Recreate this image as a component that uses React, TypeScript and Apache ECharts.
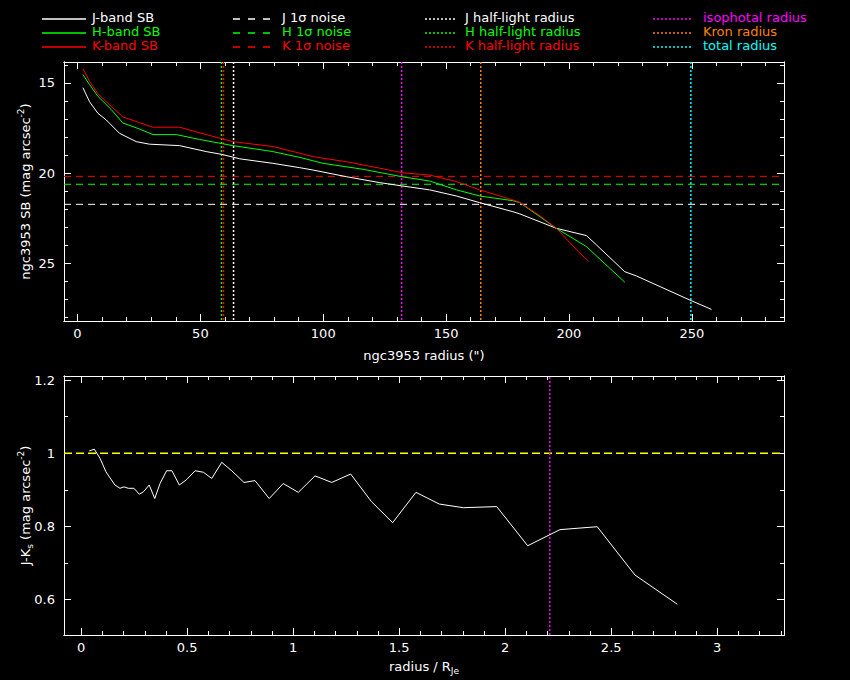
import React, { useEffect, useRef } from "react";
import * as echarts from "echarts";

const FONT = "DejaVu Sans";
const FS = 13;
const LEG_FS = 13;

// ---- data: top panel (radius in arcsec, surface brightness mag/arcsec^2)
const jBand: number[][] = [
  [2.2, 15.26], [4.9, 16.04], [8.3, 16.68], [11.7, 17.05], [17.1, 17.79], [23.9, 18.25],
  [29.3, 18.39], [41.5, 18.47], [52.4, 18.8], [58.5, 18.95], [66, 19.2], [79.5, 19.45],
  [90.4, 19.69], [95.8, 19.82], [109.4, 20.19], [123, 20.52], [132, 20.7], [143.3, 20.92],
  [154.2, 21.26], [163.7, 21.63], [177.2, 22.13], [180, 22.25], [194.9, 23.05], [207.1, 23.45],
  [211.2, 23.97], [222.7, 25.45], [227.5, 25.69], [249.2, 27.02], [258, 27.54],
];
const hBand: number[][] = [
  [2.2, 14.54], [4.9, 15.09], [8.3, 15.74], [13.7, 16.47], [18.4, 17.21], [25.2, 17.55],
  [30.7, 17.86], [40.2, 17.86], [49.7, 18.13], [63.2, 18.47], [79.5, 18.8], [90.4, 19.12],
  [99.9, 19.45], [116.2, 19.78], [132, 20.19], [143.3, 20.43], [154.2, 20.92], [163.7, 21.26],
  [177.2, 21.52], [180, 21.63], [188.1, 22.4], [194.9, 23.05], [207.1, 24.06], [222.7, 26.03],
];
const kBand: number[][] = [
  [2.2, 14.2], [4.9, 14.91], [8.3, 15.6], [11.7, 16.04], [18.4, 16.88], [25.2, 17.2],
  [30.7, 17.45], [41.5, 17.45], [52.4, 17.86], [63.2, 18.25], [79.5, 18.52], [90.4, 18.89],
  [95.8, 19.08], [109.4, 19.36], [123, 19.72], [132, 19.97], [143.3, 20.1], [154.2, 20.46],
  [163.7, 20.92], [177.2, 21.48], [180, 21.61], [188.1, 22.35], [194.9, 23.05], [203.8, 24.34],
  [207.9, 24.86],
];
const noiseLevels = { J: 21.72, H: 20.61, K: 20.17 };
const halfLight = { J: 63.5, H: 58.6, K: 59.4 };
const isophotalRadius = 131.9;
const kronRadius = 164.1;
const totalRadius = 249.6;

// ---- data: bottom panel (radius / R_Je, J-Ks colour)
const jkColour: number[][] = [
  [0.038, 1.006], [0.062, 1.011], [0.089, 0.986], [0.117, 0.949], [0.159, 0.913], [0.183, 0.904],
  [0.202, 0.908], [0.222, 0.904], [0.249, 0.904], [0.274, 0.888], [0.293, 0.894], [0.321, 0.913],
  [0.347, 0.876], [0.372, 0.917], [0.403, 0.952], [0.428, 0.952], [0.463, 0.913], [0.498, 0.928],
  [0.537, 0.952], [0.576, 0.948], [0.616, 0.931], [0.663, 0.975], [0.71, 0.952], [0.768, 0.92],
  [0.82, 0.925], [0.887, 0.876], [0.953, 0.917], [1.024, 0.893], [1.103, 0.938], [1.182, 0.92],
  [1.271, 0.943], [1.37, 0.867], [1.469, 0.81], [1.579, 0.893], [1.689, 0.861], [1.802, 0.851],
  [1.96, 0.854], [2.106, 0.747], [2.258, 0.791], [2.434, 0.799], [2.612, 0.667], [2.812, 0.587],
];
const colourRef = 1;
const isophotalScaled = 2.21;

// ---- tick labels / tick positions
const xMajorTop = [0, 50, 100, 150, 200, 250];
const xMinorTop = [10, 20, 30, 40, 60, 70, 80, 90, 110, 120, 130, 140, 160, 170, 180, 190, 210, 220, 230, 240, 260, 270, 280];
const yMajorTop = [15, 20, 25];
const yMinorTop = [14, 16, 17, 18, 19, 21, 22, 23, 24, 26, 27, 28];
const xMajorBot = [0, 0.5, 1, 1.5, 2, 2.5, 3];
const xMinorBot = [0.1, 0.2, 0.3, 0.4, 0.6, 0.7, 0.8, 0.9, 1.1, 1.2, 1.3, 1.4, 1.6, 1.7, 1.8, 1.9, 2.1, 2.2, 2.3, 2.4, 2.6, 2.7, 2.8, 2.9, 3.1, 3.2, 3.3];
const yMajorBot = [0.6, 0.8, 1, 1.2];
const yMinorBot = [0.7, 0.9, 1.1];

const legendRows = [
  ["J-band SB", "J 1σ noise", "J half-light radius", "isophotal radius"],
  ["H-band SB", "H 1σ noise", "H half-light radius", "Kron radius"],
  ["K-band SB", "K 1σ noise", "K half-light radius", "total radius"],
];

const WHITE = "#ffffff";
const GREEN = "#00ff00";
const RED = "#ff0000";
const MAGENTA = "#ff00ff";
const ORANGE = "#ff8000";
const CYAN = "#00ffff";
const YELLOW = "#ffff00";

const DOT = [2, 2];
const DASH = [7, 5];

const richStyles = {
  sup: { fontSize: 9, color: WHITE, fontFamily: FONT, verticalAlign: "top", lineHeight: 18 },
  sub: { fontSize: 9, color: WHITE, fontFamily: FONT, verticalAlign: "bottom", lineHeight: 18 },
};

function axis(kind: "x" | "y", grid: number, pos: string, min: number, max: number, ticks: number[], len: number, opts: any = {}) {
  const base: any = {
    type: "value",
    gridIndex: grid,
    position: pos,
    min,
    max,
    inverse: !!opts.inverse,
    axisLine: { show: true, onZero: false, lineStyle: { color: WHITE, width: 1 } },
    axisTick: { show: true, inside: true, length: len, customValues: ticks, lineStyle: { color: WHITE, width: 1 } },
    axisLabel: opts.labels
      ? {
          show: true,
          customValues: opts.labels,
          color: WHITE,
          fontFamily: FONT,
          fontSize: FS,
          margin: kind === "x" ? 6 : 9,
          formatter: (v: number) => String(v),
        }
      : { show: false },
    splitLine: { show: false },
    minorTick: { show: false },
  };
  if (opts.name) {
    base.name = opts.name;
    base.nameLocation = "middle";
    base.nameGap = opts.nameGap;
    base.nameMoveOverlap = false;
    base.nameTextStyle = { color: WHITE, fontFamily: FONT, fontSize: FS, lineHeight: 18, rich: richStyles };
  }
  return base;
}

const TOP_X = [-5.5, 287.5];
const TOP_Y = [13.84, 28.18];
const BOT_X = [-0.081, 3.315];
const BOT_Y = [0.503, 1.211];

function buildOption(): any {
  const xAxis = [
    axis("x", 0, "bottom", TOP_X[0], TOP_X[1], xMajorTop, 7, { labels: xMajorTop, name: 'ngc3953 radius (")', nameGap: 25 }),
    axis("x", 0, "bottom", TOP_X[0], TOP_X[1], xMinorTop, 4),
    axis("x", 0, "top", TOP_X[0], TOP_X[1], xMajorTop, 7),
    axis("x", 0, "top", TOP_X[0], TOP_X[1], xMinorTop, 4),
    axis("x", 1, "bottom", BOT_X[0], BOT_X[1], xMajorBot, 7, { labels: xMajorBot, name: "radius / R{sub|Je}", nameGap: 22 }),
    axis("x", 1, "bottom", BOT_X[0], BOT_X[1], xMinorBot, 4),
    axis("x", 1, "top", BOT_X[0], BOT_X[1], xMajorBot, 7),
    axis("x", 1, "top", BOT_X[0], BOT_X[1], xMinorBot, 4),
  ];
  const yAxis = [
    axis("y", 0, "left", TOP_Y[0], TOP_Y[1], yMajorTop, 7, { inverse: true, labels: yMajorTop, name: "ngc3953 SB (mag arcsec{sup|-2})", nameGap: 30 }),
    axis("y", 0, "left", TOP_Y[0], TOP_Y[1], yMinorTop, 4, { inverse: true }),
    axis("y", 0, "right", TOP_Y[0], TOP_Y[1], yMajorTop, 7, { inverse: true }),
    axis("y", 0, "right", TOP_Y[0], TOP_Y[1], yMinorTop, 4, { inverse: true }),
    axis("y", 1, "left", BOT_Y[0], BOT_Y[1], yMajorBot, 7, { labels: yMajorBot, name: "J-K{sub|s} (mag arcsec{sup|-2})", nameGap: 30 }),
    axis("y", 1, "left", BOT_Y[0], BOT_Y[1], yMinorBot, 4),
    axis("y", 1, "right", BOT_Y[0], BOT_Y[1], yMajorBot, 7),
    axis("y", 1, "right", BOT_Y[0], BOT_Y[1], yMinorBot, 4),
  ];

  const lineSeries = (name: string, data: number[][], color: string, xi: number, yi: number, dash: any = "solid", z = 3, width = 1) => ({
    type: "line",
    name,
    data,
    xAxisIndex: xi,
    yAxisIndex: yi,
    showSymbol: false,
    symbol: "none",
    silent: true,
    lineStyle: { color, width, type: dash },
    itemStyle: { color },
    clip: true,
    z,
  });

  // reference lines spanning the full axis extent
  const vRef = (name: string, x: number, yExt: number[], color: string, xi: number, yi: number) =>
    lineSeries(name, [[x, yExt[0]], [x, yExt[1]]], color, xi, yi, DOT, 2, 1.5);
  const hRef = (name: string, y: number, xExt: number[], color: string, dash: number[], xi: number, yi: number, width = 1) =>
    lineSeries(name, [[xExt[0], y], [xExt[1], y]], color, xi, yi, dash, 2, width);

  const series = [
    hRef("J 1σ noise", noiseLevels.J, TOP_X, WHITE, DASH, 0, 0),
    hRef("H 1σ noise", noiseLevels.H, TOP_X, GREEN, DASH, 0, 0),
    hRef("K 1σ noise", noiseLevels.K, TOP_X, RED, DASH, 0, 0),
    vRef("J half-light radius", halfLight.J, TOP_Y, WHITE, 0, 0),
    vRef("H half-light radius", halfLight.H, TOP_Y, GREEN, 0, 0),
    vRef("K half-light radius", halfLight.K, TOP_Y, RED, 0, 0),
    vRef("isophotal radius", isophotalRadius, TOP_Y, MAGENTA, 0, 0),
    vRef("Kron radius", kronRadius, TOP_Y, ORANGE, 0, 0),
    vRef("total radius", totalRadius, TOP_Y, CYAN, 0, 0),
    lineSeries("J-band SB", jBand, WHITE, 0, 0),
    lineSeries("H-band SB", hBand, GREEN, 0, 0),
    lineSeries("K-band SB", kBand, RED, 0, 0),
    hRef("colour reference", colourRef, BOT_X, YELLOW, [8, 4], 4, 4, 1.5),
    vRef("isophotal radius / R_Je", isophotalScaled, BOT_Y, MAGENTA, 4, 4),
    lineSeries("J-Ks", jkColour, WHITE, 4, 4),
  ];

  // legend drawn as graphics
  const rowY = [17, 31, 45];
  const colColors = [
    [WHITE, GREEN, RED],
    [WHITE, GREEN, RED],
    [WHITE, GREEN, RED],
    [MAGENTA, ORANGE, CYAN],
  ];
  const cols = [
    { x1: 42, x2: 86, tx: 92, dash: null as any },
    { x1: 233, x2: 277, tx: 282, dash: [7, 8] },
    { x1: 425, x2: 457, tx: 465, dash: DOT },
    { x1: 653, x2: 693, tx: 703, dash: DOT },
  ];
  const graphic: any[] = [];
  cols.forEach((c, ci) => {
    rowY.forEach((y, ri) => {
      const color = colColors[ci][ri];
      graphic.push({
        type: "line",
        shape: { x1: c.x1, y1: y + 2, x2: c.x2, y2: y + 2 },
        style: { stroke: color, lineWidth: 1.3, lineDash: c.dash || undefined },
        silent: true,
      });
      graphic.push({
        type: "text",
        x: c.tx,
        y,
        style: {
          text: legendRows[ri][ci],
          fill: color,
          fontFamily: FONT,
          fontSize: LEG_FS,
          verticalAlign: "middle",
          textVerticalAlign: "middle",
        },
        silent: true,
      });
    });
  });

  return {
    animation: false,
    backgroundColor: "#000000",
    textStyle: { fontFamily: FONT },
    grid: [
      { left: 64, top: 62, width: 720, height: 259, containLabel: false },
      { left: 64, top: 376, width: 720, height: 259, containLabel: false },
    ],
    xAxis,
    yAxis,
    series,
    graphic,
  };
}

export default function App() {
  const ref = useRef<HTMLDivElement>(null);
  useEffect(() => {
    const chart = echarts.init(ref.current!, null, { renderer: "svg" });
    chart.setOption(buildOption());
    return () => chart.dispose();
  }, []);
  return (
    <div
      ref={ref}
      style={{ position: "absolute", left: 0, top: 0, width: 850, height: 680, background: "#000" }}
    />
  );
}
